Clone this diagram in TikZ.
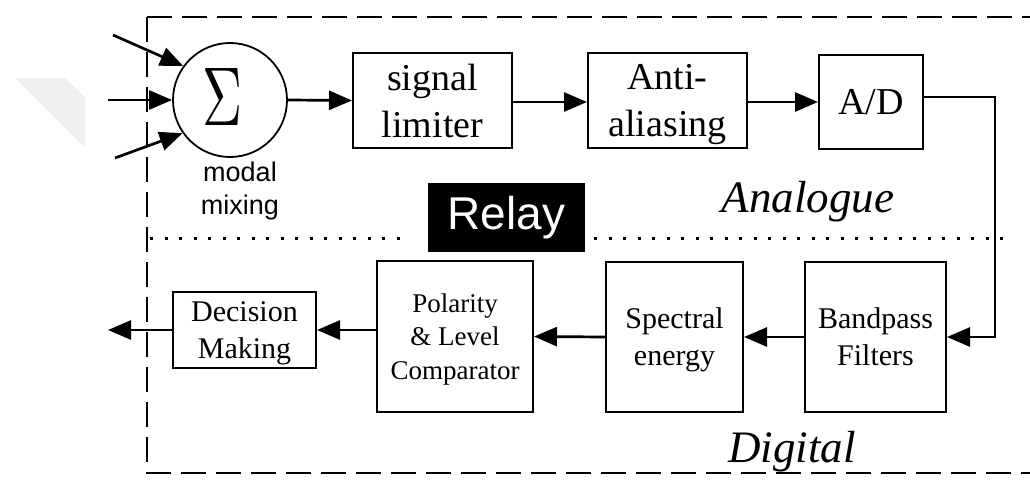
\documentclass[tikz,border=0pt]{standalone}
\usepackage[no-math]{fontspec}
\setmainfont{Liberation Serif}
\newfontfamily\sansf{Liberation Sans}
\usetikzlibrary{arrows.meta}
\newcommand\myfs[2]{\fontsize{#1}{#2}\selectfont}
\tikzset{
  blk/.style={draw, line width=2pt, inner sep=0pt, align=center, text depth=0pt},
  toprow/.style={blk, font=\myfs{38}{47}},
  botrow/.style={blk, font=\myfs{30}{37}},
  arr/.style={line width=2.7pt, -{Triangle[length=23pt,width=19pt]}},
  frame/.style={line width=2.8pt, dash pattern=on 25pt off 10pt},
  dotline/.style={line width=3pt, dash pattern=on 3pt off 11.5pt},
  italiclab/.style={font=\itshape\myfs{45}{54}, anchor=base},
  mixlab/.style={font=\sansf\myfs{27}{32}, anchor=base}
}
\begin{document}
\begin{tikzpicture}[x=1pt,y=-1pt]
\useasboundingbox (0,0) rectangle (1030,484);
\clip (0,0) rectangle (1030,484);
% faint watermark
\fill[gray!12] (15,78) -- (65,78) -- (85,97) -- (85,148) -- cycle;
% frame
\draw[frame] (147,17) -- (1040,17);
\draw[frame] (147,17) -- (147,473) -- (1040,473);
\draw[dotline] (150,238) -- (402,238);
\draw[dotline] (594,238) -- (1013,238);
% nodes
\node[draw, circle, line width=1.8pt, minimum size=114pt, inner sep=0pt] (sig) at (230,100) {};
\node[inner sep=0pt] (sigt) at (223,96.5) {\resizebox{40pt}{57pt}{$\Sigma$}};
\node[mixlab] (mm1) at (240,181) {modal};
\node[mixlab] (mm2) at (240,214) {mixing};
\node[toprow, minimum width=159pt, minimum height=95pt] (sl) at (432.5,100.5) {signal\\limiter};
\node[toprow, minimum width=159pt, minimum height=95pt] (aa) at (667.5,100.5) {Anti-\\aliasing};
\node[toprow, minimum width=104pt, minimum height=94pt] (ad) at (871,102) {A/D};
\node[fill=black, minimum width=157pt, minimum height=69pt, inner sep=0pt, text=white, font=\sansf\myfs{46}{50}] (relay) at (506.5,217.5) {Relay};
\node[italiclab] (ana) at (808,212) {Analogue};
\node[botrow, minimum width=141pt, minimum height=150pt] (bp) at (875.5,337) {Bandpass\\Filters};
\node[botrow, minimum width=137pt, minimum height=150pt] (se) at (674.5,337) {Spectral\\energy};
\node[blk, font=\myfs{27}{33.5}, minimum width=156pt, minimum height=151pt] (pc) at (455,336.5) {Polarity\\\& Level\\Comparator};
\node[botrow, minimum width=143pt, minimum height=76pt] (dm) at (244.5,330) {Decision\\Making};
\node[italiclab] (dig) at (792,462) {Digital};
% free ends
\coordinate (i1) at (113,35);
\coordinate (i2) at (108,100);
\coordinate (i3) at (115,158);
\coordinate (cr) at (995,337);
\coordinate (out) at (108,330);
% connectors
\draw[arr] (i1) -- (sig.144);
\draw[arr] (i2) -- (sig.west);
\draw[arr] (i3) -- (sig.215);
\draw[arr] (sig.east) -- (sl.west);
\draw[arr] ([yshift=-1.5pt]sl.east) -- ([yshift=-1.5pt]aa.west);
\draw[arr] ([yshift=-1.5pt]aa.east) -- (ad.west);
\draw[arr] ([yshift=5pt]ad.east) -| (cr) -- (bp.east);
\draw[arr] (bp.west) -- (se.east);
\draw[arr] (se.west) -- (pc.east);
\draw[arr] (pc.west |- dm.east) -- (dm.east);
\draw[arr] (dm.west) -- (out);
\end{tikzpicture}
\end{document}
